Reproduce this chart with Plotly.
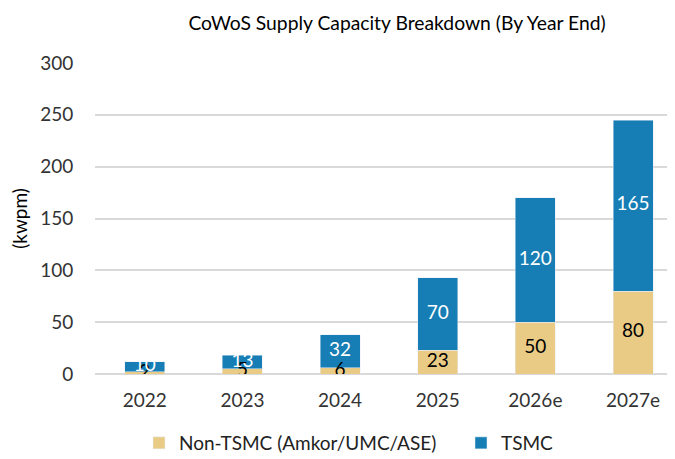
import plotly.graph_objects as go

years = ['2022', '2023', '2024', '2025', '2026e', '2027e']
non_tsmc = [2, 5, 6, 23, 50, 80]
tsmc = [10, 13, 32, 70, 120, 165]

TAN = '#E9CB85'
BLUE = '#167EB5'
FONT = 'Lato, Open Sans, sans-serif'

# the page puts the figure 8px in from the top-left corner
W, H = 667, 451

fig = go.Figure()
fig.add_trace(go.Bar(x=years, y=non_tsmc, name='Non-TSMC (Amkor/UMC/ASE)',
                     marker=dict(color=TAN), width=0.41, legend='legend'))
fig.add_trace(go.Bar(x=years, y=tsmc, name='TSMC',
                     marker=dict(color=BLUE), width=0.41, legend='legend2'))

# labels centred in each segment
fig.add_trace(go.Scatter(x=years, y=[v / 2 for v in non_tsmc], mode='text',
                         text=[str(v) for v in non_tsmc], showlegend=False,
                         textfont=dict(color='black', size=19, family=FONT),
                         hoverinfo='skip'))
fig.add_trace(go.Scatter(x=years, y=[n + t / 2 for n, t in zip(non_tsmc, tsmc)],
                         mode='text', text=[str(v) for v in tsmc], showlegend=False,
                         textfont=dict(color='white', size=19, family=FONT),
                         hoverinfo='skip'))

leg = dict(orientation='h', xref='container', xanchor='left',
           yref='container', y=1 - 435 / H, yanchor='middle',
           font=dict(size=19, color='#222222'), bgcolor='rgba(0,0,0,0)')

fig.update_layout(
    barmode='stack',
    width=W, height=H,
    paper_bgcolor='white', plot_bgcolor='white',
    font=dict(family=FONT, size=19, color='#333333'),
    title=dict(text='CoWoS Supply Capacity Breakdown (By Year End)',
               xref='container', x=389 / W, xanchor='center',
               yref='container', y=1 - 15 / H, yanchor='middle',
               font=dict(size=19.3, color='black')),
    margin=dict(l=87, r=0, t=55, b=85, autoexpand=False),
    xaxis=dict(range=[-0.51, 5.43], showgrid=False, automargin=False,
               ticks='outside', ticklen=9, tickcolor='rgba(0,0,0,0)',
               showline=False, tickfont=dict(size=19, color='#333333')),
    yaxis=dict(range=[0, 300], dtick=50, showgrid=True, gridcolor='#D9D9D9',
               gridwidth=2, zeroline=True, zerolinecolor='#D9D9D9', zerolinewidth=2,
               automargin=False, ticks='outside', ticklen=17,
               tickcolor='rgba(0,0,0,0)', tickfont=dict(size=19, color='#333333'),
               title=dict(text='(kwpm)', font=dict(size=19, color='black'), standoff=10)),
    legend=dict(leg, x=131 / W),
    legend2=dict(leg, x=453 / W),
    bargap=0.5,
)

fig.write_html('out.html')
